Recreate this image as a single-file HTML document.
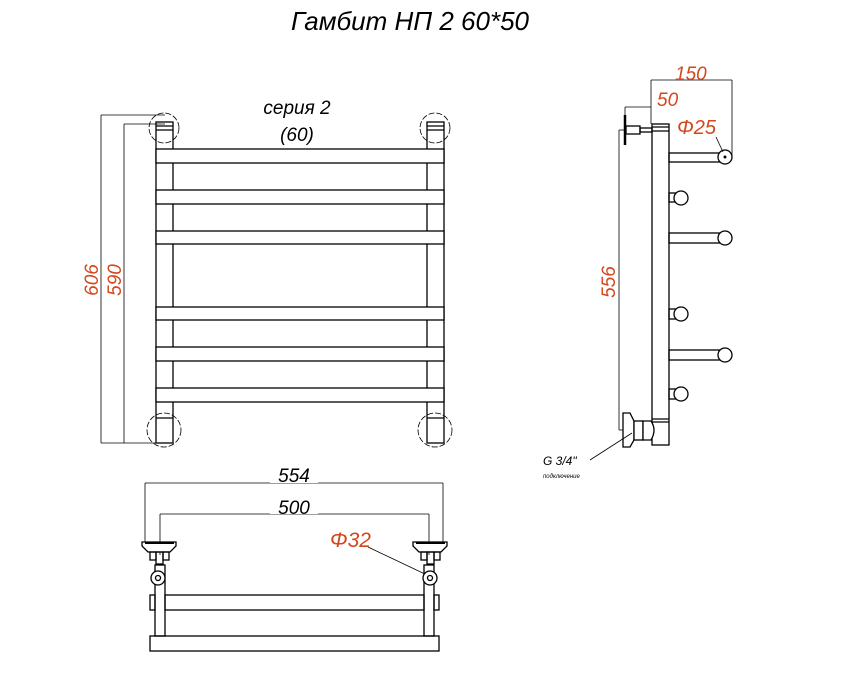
<!DOCTYPE html>
<html><head><meta charset="utf-8"><style>
body{margin:0;background:#fff}
svg{display:block}
text{font-family:"Liberation Sans",sans-serif;font-style:italic}
.r{fill:#d4461c}
</style></head><body>
<svg width="850" height="684" viewBox="0 0 850 684" xmlns="http://www.w3.org/2000/svg">
<g fill="none" stroke="#000" stroke-width="1.3">
<!-- front view -->
<rect x="156" y="122" width="17" height="321" fill="#fff"/>
<rect x="427" y="122" width="17" height="321" fill="#fff"/>
<line x1="156" y1="126" x2="173" y2="126"/><line x1="156" y1="130" x2="173" y2="130"/>
<line x1="427" y1="126" x2="444" y2="126"/><line x1="427" y1="130" x2="444" y2="130"/>
<line x1="156" y1="418" x2="173" y2="418"/><line x1="427" y1="418" x2="444" y2="418"/>
<circle cx="164" cy="128" r="15" stroke-width="0.8" stroke-dasharray="6,2"/>
<circle cx="435" cy="128" r="15" stroke-width="0.8" stroke-dasharray="6,2"/>
<circle cx="164" cy="430" r="17" stroke-width="0.8" stroke-dasharray="6,2"/>
<circle cx="435" cy="430" r="17" stroke-width="0.8" stroke-dasharray="6,2"/>
<rect x="156" y="149" width="288" height="14" fill="#fff"/>
<rect x="156" y="190" width="288" height="14" fill="#fff"/>
<rect x="156" y="231" width="288" height="13" fill="#fff"/>
<rect x="156" y="307" width="288" height="13" fill="#fff"/>
<rect x="156" y="347" width="288" height="14" fill="#fff"/>
<rect x="156" y="388" width="288" height="14" fill="#fff"/>
<!-- dims front -->
<g stroke-width="0.8">
<line x1="101" y1="115" x2="101" y2="443"/><line x1="101" y1="115" x2="165" y2="115"/><line x1="101" y1="443" x2="160" y2="443"/>
<line x1="124" y1="124" x2="124" y2="443"/><line x1="124" y1="124" x2="165" y2="124"/>
</g>
<!-- side view -->
<rect x="652" y="124" width="17" height="321" fill="#fff"/>
<line x1="652" y1="127" x2="669" y2="127"/><line x1="652" y1="131" x2="669" y2="131"/>
<line x1="652" y1="419" x2="669" y2="419"/><line x1="652" y1="422" x2="669" y2="422"/>
<rect x="669" y="153" width="56" height="9"/><circle cx="725" cy="157" r="7" fill="#fff"/>
<rect x="669" y="233" width="56" height="10"/><circle cx="725" cy="238" r="7" fill="#fff"/>
<rect x="669" y="350" width="56" height="10"/><circle cx="725" cy="355" r="7" fill="#fff"/>
<rect x="669" y="193" width="10" height="9"/><circle cx="681" cy="198" r="7" fill="#fff"/>
<rect x="669" y="309" width="10" height="10"/><circle cx="681" cy="314" r="7" fill="#fff"/>
<rect x="669" y="389" width="10" height="10"/><circle cx="681" cy="394" r="7" fill="#fff"/>
<circle cx="725" cy="157" r="0.8" fill="#000"/>
<line x1="625" y1="115" x2="625" y2="145" stroke-width="2.5"/>
<rect x="626" y="126" width="14" height="8"/>
<rect x="640" y="128" width="12" height="4"/>
<path d="M623 413 L630 413 L634 421 L634 440 L630 447 L623 447 Z" fill="#fff"/>
<rect x="634" y="421" width="9" height="19" fill="#fff"/>
<path d="M643 421 L651 421 Q657 430 651 440 L643 440 Z" fill="#fff"/>
<g stroke-width="0.8">
<line x1="651" y1="80" x2="732" y2="80"/><line x1="651" y1="80" x2="651" y2="124"/><line x1="732" y1="80" x2="732" y2="157"/>
<line x1="625" y1="107" x2="651" y2="107"/><line x1="625" y1="107" x2="625" y2="115"/>
<line x1="619" y1="130" x2="619" y2="430"/><line x1="619" y1="130" x2="625" y2="130"/><line x1="619" y1="430" x2="623" y2="430"/>
<line x1="716" y1="137" x2="723" y2="152"/>
<line x1="590" y1="460" x2="632" y2="433"/>
</g>
<!-- bottom view -->
<g stroke-width="0.8">
<line x1="145" y1="483" x2="443" y2="483"/><line x1="145" y1="483" x2="145" y2="542"/><line x1="443" y1="483" x2="443" y2="542"/>
<line x1="160" y1="514" x2="429" y2="514"/><line x1="160" y1="514" x2="160" y2="555"/><line x1="429" y1="514" x2="429" y2="555"/>
<line x1="368" y1="547" x2="427" y2="575"/>
</g>
<rect x="150" y="636" width="289" height="15"/>
<rect x="165" y="595" width="259" height="15"/>
<rect x="150" y="595" width="5" height="15"/><rect x="434" y="595" width="5" height="15"/>
<rect x="155" y="565" width="10" height="71"/><rect x="424" y="565" width="10" height="71"/>
<path d="M142 542 L176 542 L176 546 L170 552 L148 552 L142 546 Z" fill="#fff"/>
<line x1="145" y1="543" x2="174" y2="543" stroke-width="2"/>
<rect x="150" y="552" width="6" height="8"/><rect x="163" y="552" width="6" height="8"/>
<rect x="156" y="552" width="7" height="12"/>
<path d="M413 542 L447 542 L447 546 L441 552 L419 552 L413 546 Z" fill="#fff"/>
<line x1="416" y1="543" x2="445" y2="543" stroke-width="2"/>
<rect x="421" y="552" width="6" height="8"/><rect x="434" y="552" width="6" height="8"/>
<rect x="427" y="552" width="7" height="12"/>
<circle cx="158" cy="578" r="7" fill="#fff"/><circle cx="158" cy="578" r="2.5"/>
<circle cx="430" cy="578" r="7" fill="#fff"/><circle cx="430" cy="578" r="2.5"/>
</g>
<rect x="270" y="500" width="48" height="14" fill="#fff"/>
<rect x="270" y="470" width="48" height="13" fill="#fff"/>
<text x="410" y="30" font-size="26" text-anchor="middle">Гамбит НП 2 60*50</text>
<text x="297" y="114" font-size="19" text-anchor="middle">серия 2</text>
<text x="297" y="141" font-size="19" text-anchor="middle">(60)</text>
<text x="294" y="482" font-size="19" text-anchor="middle">554</text>
<text x="294" y="514" font-size="19" text-anchor="middle">500</text>
<text class="r" x="330" y="547" font-size="21">Φ32</text>
<text class="r" transform="translate(98,280) rotate(-90)" font-size="19" text-anchor="middle">606</text>
<text class="r" transform="translate(121,280) rotate(-90)" font-size="19" text-anchor="middle">590</text>
<text class="r" transform="translate(615,282) rotate(-90)" font-size="19" text-anchor="middle">556</text>
<text class="r" x="675" y="80" font-size="19">150</text>
<text class="r" x="657" y="106" font-size="19">50</text>
<text class="r" x="677" y="134" font-size="20">Φ25</text>
<text x="543" y="465" font-size="12">G 3/4"</text>
<text x="543" y="478" font-size="6">подключение</text>
</svg>
</body></html>
